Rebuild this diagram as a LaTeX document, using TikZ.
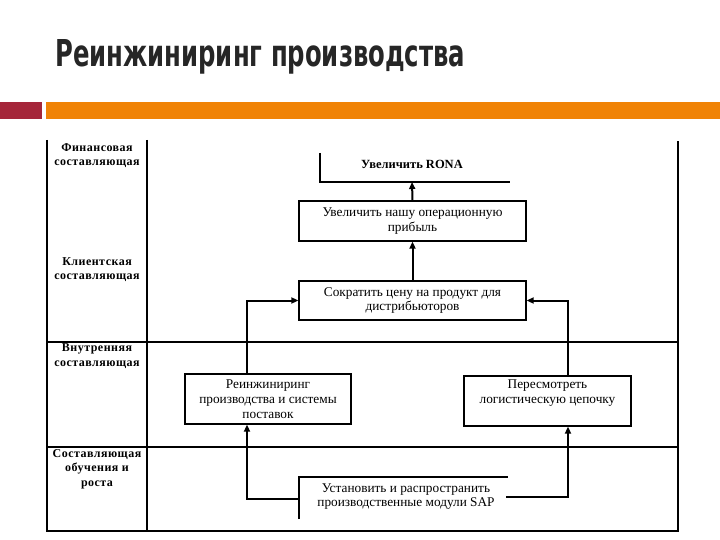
\documentclass[tikz,border=0pt]{standalone}
\usepackage{fontspec}
\setmainfont{Liberation Serif}
\newfontfamily\titlefont{DejaVu Sans}
\newfontfamily\lblfont[LetterSpace=4]{Liberation Serif}
\usetikzlibrary{arrows.meta}
\definecolor{barred}{HTML}{A5263A}
\definecolor{barorange}{HTML}{F08306}
\definecolor{titlegray}{HTML}{262626}
\tikzset{
  tline/.style={line width=1.5pt, black},
  box/.style={draw, line width=1.3pt, rectangle, align=center, inner sep=2pt,
    font=\fontsize{13.3}{14.8}\selectfont},
  plain/.style={align=center, inner sep=0pt, font=\fontsize{13.3}{14.8}\selectfont},
  lbl/.style={align=center, inner sep=0pt, font=\lblfont\bfseries\fontsize{12}{14.5}\selectfont},
  conn/.style={line width=2pt, -{Triangle[length=7pt,width=6pt]}},
  openline/.style={line width=1.5pt}
}
\begin{document}
\begin{tikzpicture}[x=1pt,y=-1pt]
\useasboundingbox (0,0) rectangle (720,540);
% title
\node[anchor=south west, inner sep=0pt, text=titlegray] (title) at (55,74)
  {\resizebox{410pt}{27pt}{\titlefont\bfseries Реинжиниринг производства}};
% bars
\fill[barred] (0,102) rectangle (42,119);
\fill[barorange] (46,102) rectangle (720,119);
% table
\draw[tline] (47,140) -- (47,531) -- (678,531) -- (678,141);
\draw[tline] (147,140) -- (147,531);
\draw[tline] (47,342) -- (678,342);
\draw[tline] (47,447) -- (678,447);
% left labels
\node[lbl] (l1) at (97,155.5) {Финансовая\\составляющая};
\node[lbl] (l2) at (97,269.5) {Клиентская\\составляющая};
\node[lbl] (l3) at (97,356) {Внутренняя\\составляющая};
\node[lbl] (l4) at (97,469) {Составляющая\\обучения и\\роста};
% RONA (open shape)
\node[plain, font=\bfseries\fontsize{12.5}{14.5}\selectfont] (rona) at (412,164) {Увеличить RONA};
\coordinate (ronab) at (412,182);
\draw[openline] (320,153) -- (320,182) -- (510,182);
% boxes
\node[box, minimum width=227pt, minimum height=40pt] (b2) at (412.5,221)
  {Увеличить нашу операционную\\прибыль};
\node[box, minimum width=227pt, minimum height=39pt] (b3) at (412.5,300.5)
  {Сократить цену на продукт для\\дистрибьюторов};
\node[box, minimum width=166pt, minimum height=50pt] (b4) at (268,399)
  {Реинжиниринг\\производства и системы\\поставок};
\node[box, minimum width=167pt, minimum height=50pt] (b5) at (547.5,401)
  {Пересмотреть\\логистическую цепочку\\\strut};
% SAP (open shape)
\node[plain] (sap) at (406,496.5) {Установить и распространить\\производственные модули SAP};
\draw[openline] (299,519) -- (299,477) -- (508,477);
\coordinate (sapl) at (299,499);
\coordinate (sapr) at (506,497);
% connectors
\draw[conn] (b2.north) -- (ronab);
\draw[conn] (b3.north) -- (b3.north |- b2.south);
\draw[conn] (b4.north -| 247,0) |- (b3.west);
\draw[conn] (b5.north -| 568,0) |- (b3.east);
\draw[conn] (sapl) -| (b4.south -| 247,0);
\draw[conn] (sapr) -| (b5.south -| 568,0);
\end{tikzpicture}
\end{document}
